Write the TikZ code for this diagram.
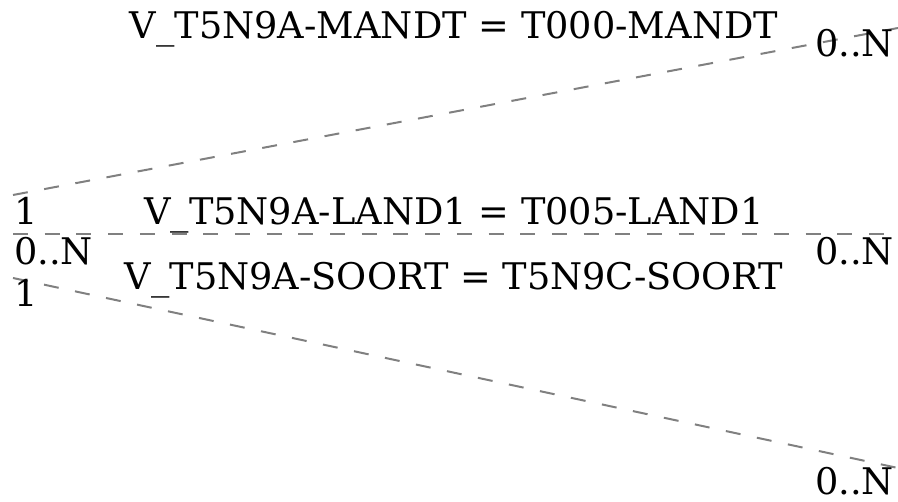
\documentclass[tikz,border=0pt]{standalone}
\usepackage{fontspec}
\setmainfont{DejaVu Serif}
\usetikzlibrary{positioning}

\begin{document}
\begin{tikzpicture}[x=1pt, y=-1pt, every node/.style={inner sep=0cm, font=\fontsize{36.7}{44}\selectfont, text=black}, link/.style={draw=gray, line width=2pt, dash pattern=on 15pt off 16.7pt}]
    \useasboundingbox (0,0) rectangle (898,502);

    \coordinate (mandtl) at (13,195);
    \coordinate (mandtr) at (898,28);
    \coordinate (land1l) at (13,234.5);
    \coordinate (land1r) at (898,234.5);
    \coordinate (soortl) at (13,278);
    \coordinate (soortr) at (898,468);

    \path[link] (mandtl) -- (mandtr);
    \path[link] (land1l) -- (land1r);
    \path[link] (soortl) -- (soortr);

    \node (mandt) [anchor=base] at (454,39) {V\_T5N9A-MANDT = T000-MANDT};
    \node (land1) [anchor=base] at (454,225) {V\_T5N9A-LAND1 = T005-LAND1};
    \node (soort) [anchor=base] at (454,290) {V\_T5N9A-SOORT = T5N9C-SOORT};

    \node (mandtsrc) [anchor=base west] at (14,225) {1};
    \node (land1src) [anchor=base west] at (14,265) {0..N};
    \node (soortsrc) [anchor=base west] at (14,307) {1};

    \node (mandttgt) [anchor=base west] at (815,57) {0..N};
    \node (land1tgt) [anchor=base west] at (815,265) {0..N};
    \node (soorttgt) [anchor=base west] at (815,495) {0..N};
\end{tikzpicture}
\end{document}
